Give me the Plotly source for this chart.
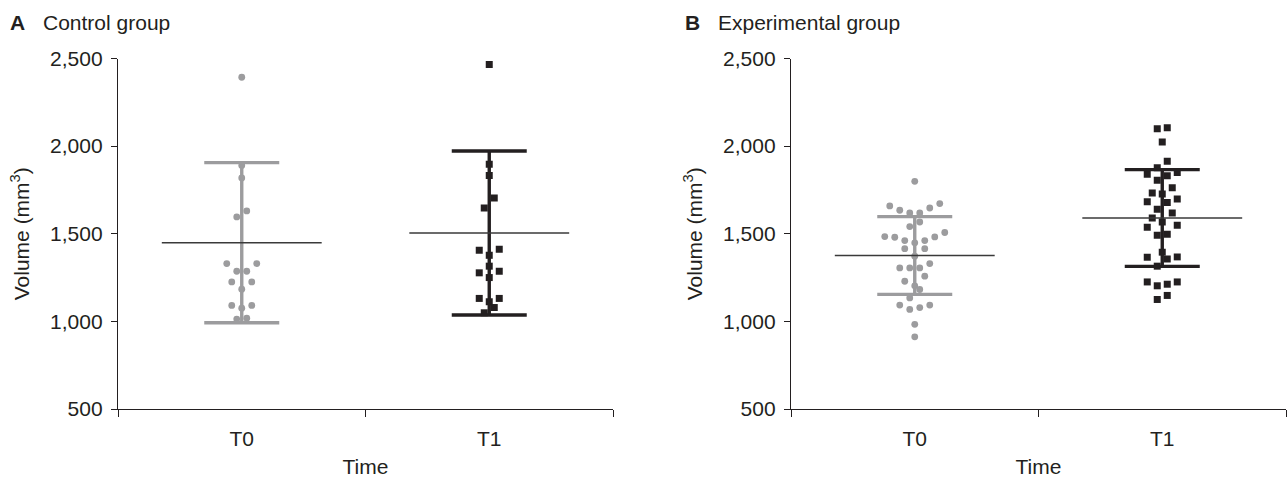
import plotly.graph_objects as go

# ---------------- data ----------------
categories = ["T0", "T1"]

ctrl_t0 = [2393, 1890, 1818, 1630, 1596, 1330, 1330, 1286, 1286, 1225, 1225,
           1184, 1091, 1091, 1075, 1013, 1018]
ctrl_t1 = [2466, 1896, 1833, 1704, 1647, 1412, 1406, 1377, 1315, 1286, 1277,
           1250, 1131, 1131, 1112, 1079, 1049]
exp_t0 = [1799, 1672, 1647, 1619, 1619, 1634, 1659, 1567, 1541, 1484, 1480,
          1461, 1448, 1461, 1482, 1507, 1415, 1415, 1372, 1330, 1305, 1305,
          1305, 1258, 1229, 1203, 1182, 1134, 1093, 1068, 1079, 1093, 983, 912]
exp_t1 = [2105, 2099, 2023, 1913, 1877, 1839, 1849, 1805, 1831, 1763, 1733,
          1727, 1683, 1679, 1698, 1640, 1619, 1590, 1567, 1537, 1548, 1491,
          1497, 1395, 1366, 1356, 1368, 1315, 1225, 1212, 1203, 1225, 1125, 1148]

ctrl_mean = [1449, 1504]
ctrl_sd = [457, 468]
exp_mean = [1376, 1590]
exp_sd = [222, 276]

y_ticks = [500, 1000, 1500, 2000, 2500]
panel_letters = ["A", "B"]
panel_names = ["Control group", "Experimental group"]
x_title = "Time"
y_title = "Volume (mm<sup>3</sup>)"

# ---------------- layout constants ----------------
W, H = 1287, 479
FONT = "Liberation Sans, Arial, Helvetica, sans-serif"
INK = "#231f20"
GREY = "#9c9c9e"
X_RANGE = [-0.5, 1.5]
Y_RANGE = [500, 2500]
DOM_A = [118 / W, 613 / W]
DOM_B = [791 / W, 1286 / W]
DOM_Y = [70 / H, 420.5 / H]

PX_PER_X = (DOM_A[1] - DOM_A[0]) * W / (X_RANGE[1] - X_RANGE[0])
PX_PER_Y = (DOM_Y[1] - DOM_Y[0]) * H / (Y_RANGE[1] - Y_RANGE[0])


def swarm_offsets(values, row_px=10.6, slot_px=10.0):
    """Prism-like scatter-dot layout: group values into rows, spread each row."""
    n = len(values)
    order = sorted(range(n), key=lambda k: values[k])
    offs = [0.0] * n
    i = 0
    while i < n:
        start = values[order[i]]
        row = [order[i]]
        j = i + 1
        while j < n and (values[order[j]] - start) * PX_PER_Y < row_px:
            row.append(order[j])
            j += 1
        m = len(row)
        slots = []
        if m % 2 == 1:
            slots.append(0.0)
            k = 1
            while len(slots) < m:
                slots += [-k, k]
                k += 1
        else:
            k = 0.5
            while len(slots) < m:
                slots += [-k, k]
                k += 1
        for idx, s in zip(row, slots[:m]):
            offs[idx] = s * slot_px / PX_PER_X
        i = j
    return offs


fig = go.Figure()

panels = [
    ("x", "y", [ctrl_t0, ctrl_t1], ctrl_mean, ctrl_sd),
    ("x2", "y2", [exp_t0, exp_t1], exp_mean, exp_sd),
]
styles = [
    dict(color=GREY, symbol="circle", size=6.8),
    dict(color=INK, symbol="square", size=7),
]

for xa, ya, groups, means, sds in panels:
    for ci, vals in enumerate(groups):
        offs = swarm_offsets(vals)
        st = styles[ci]
        fig.add_trace(go.Scatter(
            x=[ci + o for o in offs], y=vals, mode="markers",
            marker=dict(color=st["color"], symbol=st["symbol"], size=st["size"],
                        line=dict(width=0)),
            xaxis=xa, yaxis=ya, showlegend=False, hoverinfo="y"))
    for ci in range(2):
        col = styles[ci]["color"]
        # SD whisker
        fig.add_trace(go.Scatter(
            x=[ci], y=[means[ci]], mode="markers",
            marker=dict(size=1, opacity=0),
            error_y=dict(type="data", array=[sds[ci]], symmetric=True,
                         width=37.5, thickness=3.4, color=col),
            xaxis=xa, yaxis=ya, showlegend=False, hoverinfo="skip"))
        # mean line
        fig.add_trace(go.Scatter(
            x=[ci], y=[means[ci]], mode="markers",
            marker=dict(size=1, opacity=0),
            error_x=dict(type="data", array=[0.323], symmetric=True,
                         width=0, thickness=1.6, color="#3a3a3a"),
            xaxis=xa, yaxis=ya, showlegend=False, hoverinfo="skip"))

axis_common = dict(showgrid=False, zeroline=False, showline=True,
                   linecolor=INK, linewidth=1.3,
                   tickfont=dict(family=FONT, size=21, color=INK))

xaxis_style = dict(axis_common, range=X_RANGE, tickmode="array",
                   tickvals=[0, 1], ticktext=categories, ticks="",
                   ticklabelstandoff=11,
                   minor=dict(tickmode="array", tickvals=[-0.5, 0.5, 1.5],
                              ticks="outside", ticklen=7, tickwidth=1.3,
                              tickcolor=INK),
                   title=dict(text=x_title, font=dict(family=FONT, size=21, color=INK),
                              standoff=9))
yaxis_style = dict(axis_common, range=Y_RANGE, tickmode="array",
                   tickvals=y_ticks, tickformat=",", ticks="outside",
                   ticklen=6, tickwidth=1.3, tickcolor=INK,
                   ticklabelstandoff=4,
                   title=dict(text=y_title, font=dict(family=FONT, size=21, color=INK),
                              standoff=14))

annotations = []
for li, dom in enumerate([DOM_A, DOM_B]):
    base = [8, 683][li]
    annotations.append(dict(text="<b>%s</b>" % panel_letters[li], x=base / W, y=1 - 22.5 / H,
                            xref="paper", yref="paper", xanchor="left", yanchor="middle",
                            showarrow=False, font=dict(family=FONT, size=21, color=INK)))
    annotations.append(dict(text=panel_names[li], x=(base + 33) / W, y=1 - 22.5 / H,
                            xref="paper", yref="paper", xanchor="left", yanchor="middle",
                            showarrow=False, font=dict(family=FONT, size=21, color=INK)))

fig.update_layout(
    template="none",
    width=W, height=H,
    margin=dict(l=0, r=0, t=0, b=0),
    paper_bgcolor="white", plot_bgcolor="white",
    font=dict(family=FONT, size=21, color=INK),
    xaxis=dict(xaxis_style, domain=DOM_A, anchor="y"),
    yaxis=dict(yaxis_style, domain=DOM_Y, anchor="x"),
    xaxis2=dict(xaxis_style, domain=DOM_B, anchor="y2"),
    yaxis2=dict(yaxis_style, domain=DOM_Y, anchor="x2"),
    annotations=annotations,
    showlegend=False,
)

fig.write_html("out.html")
